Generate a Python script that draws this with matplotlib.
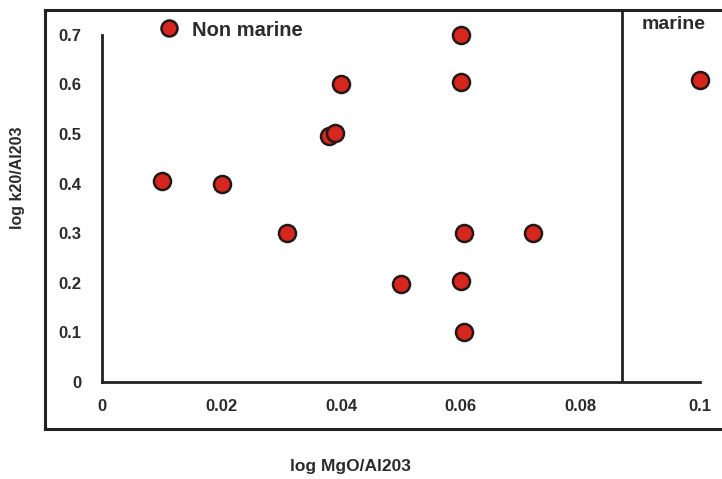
import numpy as np
import matplotlib.pyplot as plt
from matplotlib.lines import Line2D

plt.rcParams['font.family'] = ['Liberation Sans', 'DejaVu Sans']
plt.rcParams['font.weight'] = 'bold'

# données
mgo = [0.010, 0.020, 0.031, 0.038, 0.039, 0.040, 0.050, 0.060, 0.060,
       0.0605, 0.060, 0.0605, 0.072, 0.100]
k2o = [0.405, 0.400, 0.300, 0.495, 0.503, 0.600, 0.198, 0.700, 0.605,
       0.300, 0.203, 0.100, 0.300, 0.609]
limite = 0.087
xticks = [0, 0.02, 0.04, 0.06, 0.08, 0.1]
xticklabels = ["0", "0.02", "0.04", "0.06", "0.08", "0.1"]
yticks = [0, 0.1, 0.2, 0.3, 0.4, 0.5, 0.6, 0.7]
yticklabels = ["0", "0.1", "0.2", "0.3", "0.4", "0.5", "0.6", "0.7"]

W, H = 722, 479
fig = plt.figure(figsize=(W / 100, H / 100), dpi=100)
ax = fig.add_axes([102 / W, (H - 382) / H, (700 - 102) / W, (382 - 10) / H])

ax.scatter(mgo, k2o, s=150, c="#d7261e", edgecolors="#231815",
           linewidths=1.8, zorder=3, clip_on=False)

ax.set_xlim(0, 0.1)
ax.set_ylim(0, 0.75)
ax.set_xticks(xticks)
ax.set_xticklabels(xticklabels)
ax.set_yticks(yticks)
ax.set_yticklabels(yticklabels)
ax.tick_params(length=0, labelsize=12)
ax.tick_params(axis="y", pad=15)
ax.tick_params(axis="x", pad=12)
for lab in ax.get_xticklabels() + ax.get_yticklabels():
    lab.set_color("#2b2b2b")

for s in ["top", "right"]:
    ax.spines[s].set_visible(False)
ax.spines["left"].set_bounds(0, 0.7)
ax.spines["bottom"].set_bounds(0, 0.1)
for s in ["left", "bottom"]:
    ax.spines[s].set_linewidth(2)
    ax.spines[s].set_color("#222222")

ax.axvline(limite, color="#222222", lw=2)
ax.text(0.0903, 0.72, "marine", fontsize=14, color="#2b2b2b", va="center")

handle = Line2D([], [], ls="", marker="o", markersize=11.5, markerfacecolor="#d7261e",
                markeredgecolor="#231815", markeredgewidth=1.8)
fig.legend([handle], ["Non marine"], loc="center left", frameon=False,
           bbox_to_anchor=(137 / W, 1 - 30 / H), prop={"size": 14.5, "weight": "bold"},
           handletextpad=0.45, handlelength=1.4, labelcolor="#2b2b2b")

# cadre extérieur
kw = dict(color="#222222", lw=2.2, transform=fig.transFigure)
fig.add_artist(Line2D([45 / W, 45 / W], [1 - 10 / H, 1 - 429 / H], **kw))
fig.add_artist(Line2D([45 / W, 1.01], [1 - 10 / H, 1 - 10 / H], **kw))
fig.add_artist(Line2D([45 / W, 1.01], [1 - 429 / H, 1 - 429 / H], **kw))

fig.text(18 / W, 1 - 178 / H, "log k20/Al203", rotation=90, fontsize=11.5,
         ha="center", va="center", color="#2b2b2b")
fig.text(350 / W, 1 - 467 / H, "log MgO/Al203", fontsize=12.5,
         ha="center", va="center", color="#2b2b2b")

fig.savefig("out.png", dpi=100)
